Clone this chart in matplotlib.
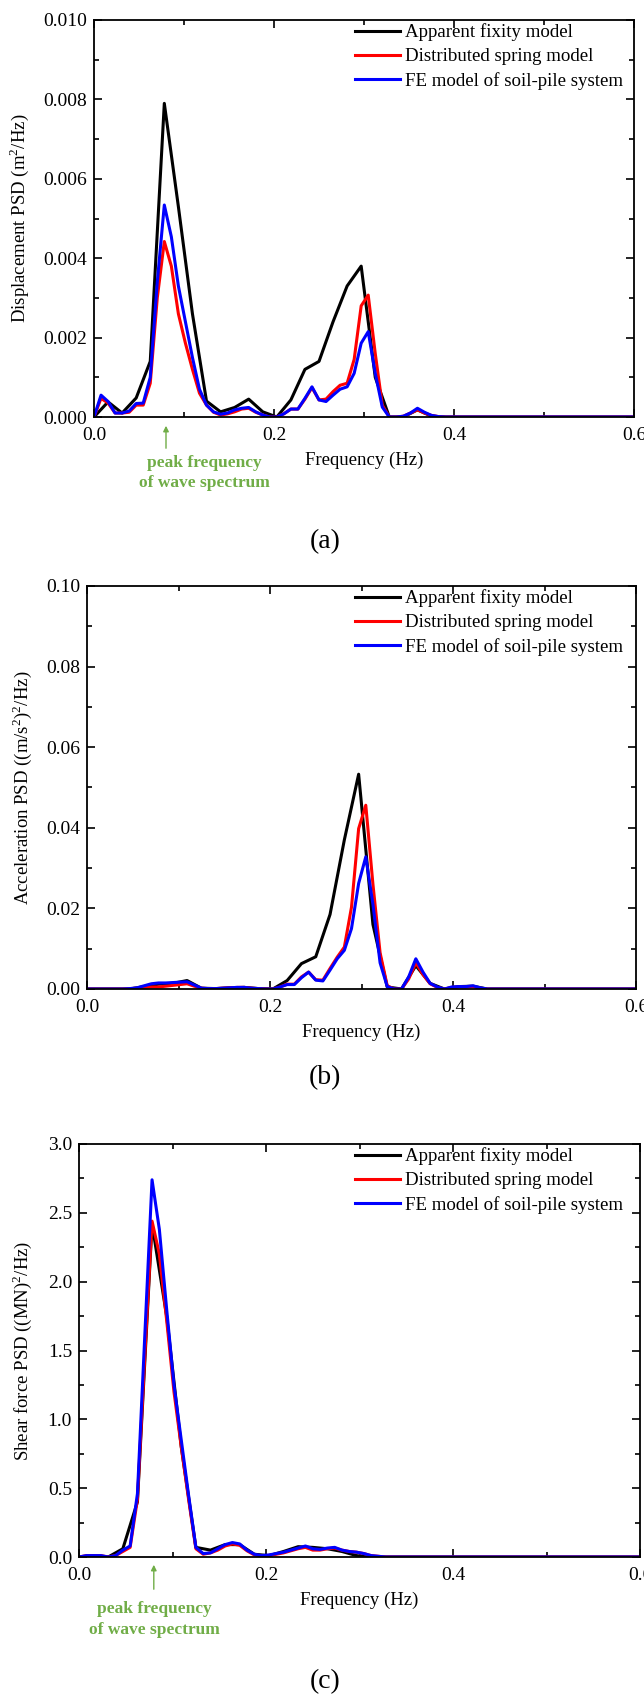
import matplotlib
matplotlib.use('Agg')
import matplotlib.pyplot as plt
import numpy as np

plt.rcParams['font.family'] = ['Liberation Serif', 'DejaVu Serif']
plt.rcParams['mathtext.fontset'] = 'custom'
plt.rcParams['mathtext.rm'] = 'Liberation Serif'

# frequency resolution of the PSD data (Hz)
df_fine = 1 / 128
df_coarse = 1 / 64

labels = ['Apparent fixity model', 'Distributed spring model', 'FE model of soil-pile system']
colors = ['black', 'red', 'blue']

# (a) displacement PSD, m^2/Hz
disp_fixity = [0.0, 0.00038, 0.0001, 0.00048, 0.0014, 0.0079, 0.0053, 0.0026, 0.0004, 0.00013,
               0.00024, 0.00045, 0.00013, 0.0, 0.00043, 0.0012, 0.0014, 0.0024, 0.0033, 0.0038,
               0.0010, 0.0, 0.0, 0.00018, 0.00002] + [0.0] * 15
disp_spring = [0.0, 0.00047, 0.00035, 0.0001, 0.0001, 0.00012, 0.0003, 0.0003, 0.00085, 0.0030,
               0.00442, 0.0038, 0.0026, 0.00186, 0.0012, 0.0006, 0.0003, 0.00012, 0.00005, 0.00008,
               0.00013, 0.0002, 0.00022, 0.00012, 0.00005, 0.0, 0.0, 0.00008, 0.0002, 0.0002,
               0.00045, 0.00074, 0.00043, 0.00045, 0.00064, 0.0008, 0.00085, 0.00145, 0.0028, 0.00307,
               0.0016, 0.0003, 0.0, 0.0, 0.00002, 0.0001, 0.00018, 0.0001, 0.00004, 0.00001] + [0.0] * 28
disp_fe = [0.0, 0.00055, 0.00039, 0.0001, 0.0001, 0.00015, 0.00034, 0.00035, 0.001, 0.0034,
           0.00534, 0.00454, 0.0033, 0.0024, 0.0015, 0.0007, 0.0003, 0.00013, 0.00007, 0.0001,
           0.00018, 0.00022, 0.00024, 0.00013, 0.00005, 0.0, 0.0, 0.00008, 0.0002, 0.0002,
           0.00047, 0.00076, 0.00043, 0.00039, 0.00055, 0.0007, 0.00076, 0.0011, 0.00186, 0.00215,
           0.0011, 0.00025, 0.0, 0.0, 0.00002, 0.0001, 0.00022, 0.00012, 0.00004, 0.00001] + [0.0] * 28

# (b) acceleration PSD, (m/s^2)^2/Hz
acc_fixity = [0.0, 0.0, 0.0, 0.0, 0.0006, 0.0012, 0.0014, 0.0021, 0.0002, 0.0001,
              0.0003, 0.0004, 0.0001, 0.0, 0.0021, 0.0063, 0.0080, 0.0185, 0.0370, 0.0533,
              0.0160, 0.0005, 0.0, 0.0058, 0.0014, 0.0, 0.0006, 0.0007, 0.0] + [0.0] * 11
acc_spring = [0.0, 0.0, 0.0, 0.0, 0.0, 0.0, 0.0001, 0.0002, 0.0004, 0.0005,
              0.0005, 0.0007, 0.0009, 0.0011, 0.0013, 0.0007, 0.0002, 0.0001, 0.0001, 0.0002,
              0.0003, 0.0004, 0.0004, 0.0002, 0.0001, 0.0, 0.0, 0.0005, 0.0012, 0.0012,
              0.0030, 0.0042, 0.0023, 0.0022, 0.0051, 0.0079, 0.0104, 0.0203, 0.0398, 0.0456,
              0.0260, 0.0090, 0.0008, 0.0, 0.0, 0.0025, 0.0065, 0.0036, 0.0013, 0.0004,
              0.0, 0.0004, 0.0005, 0.0005, 0.0006, 0.0002, 0.0] + [0.0] * 21
acc_fe = [0.0, 0.0, 0.0, 0.0, 0.0, 0.0, 0.0001, 0.0003, 0.0008, 0.0013,
          0.0015, 0.0015, 0.0016, 0.0017, 0.0018, 0.0010, 0.0002, 0.0001, 0.0001, 0.0002,
          0.0003, 0.0004, 0.0004, 0.0002, 0.0001, 0.0, 0.0, 0.0005, 0.0011, 0.0011,
          0.0028, 0.0042, 0.0022, 0.0020, 0.0047, 0.0075, 0.0096, 0.0150, 0.0262, 0.0328,
          0.0210, 0.0065, 0.0006, 0.0, 0.0, 0.0030, 0.0075, 0.0042, 0.0014, 0.0005,
          0.0, 0.0005, 0.0006, 0.0006, 0.0008, 0.0003, 0.0] + [0.0] * 21

# (c) shear force PSD, (MN)^2/Hz
shear_fixity = [0.0, 0.01, 0.0, 0.06, 0.40, 2.42, 1.75, 0.80, 0.07, 0.05,
                0.09, 0.09, 0.02, 0.01, 0.04, 0.075, 0.07, 0.06, 0.04, 0.01, 0.0] + [0.0] * 19
shear_spring = [0.0, 0.01, 0.01, 0.01, 0.0, 0.01, 0.04, 0.07, 0.42, 1.45,
                2.44, 2.20, 1.72, 1.20, 0.80, 0.42, 0.06, 0.02, 0.03, 0.05,
                0.08, 0.095, 0.085, 0.045, 0.015, 0.008, 0.012, 0.02, 0.03, 0.045,
                0.06, 0.07, 0.05, 0.05, 0.06, 0.065, 0.05, 0.04, 0.035, 0.025,
                0.01, 0.005, 0.0] + [0.0] * 35
shear_fe = [0.0, 0.01, 0.01, 0.01, 0.0, 0.01, 0.05, 0.08, 0.46, 1.60,
            2.74, 2.38, 1.80, 1.25, 0.85, 0.45, 0.07, 0.025, 0.03, 0.06,
            0.09, 0.105, 0.095, 0.05, 0.02, 0.01, 0.015, 0.025, 0.035, 0.05,
            0.065, 0.08, 0.06, 0.055, 0.065, 0.07, 0.05, 0.04, 0.035, 0.025,
            0.01, 0.005, 0.0] + [0.0] * 35

W, H = 644, 1697
fig = plt.figure(figsize=(W / 100, H / 100), dpi=100)


def px_axes(left, right, top, bottom):
    return fig.add_axes([left / W, 1 - bottom / H, (right - left) / W, (bottom - top) / H])


def fy(y):
    return 1 - y / H


panels = [
    dict(box=(94, 634, 20, 417), ymax=0.010, yticks=np.arange(0, 0.0101, 0.002), fmt='{:.3f}',
         ylabel='Displacement PSD (m$^2$/Hz)', data=(disp_fixity, disp_spring, disp_fe),
         ylab_x=31, tag='(a)', tag_y=542),
    dict(box=(87, 636, 586, 989), ymax=0.10, yticks=np.arange(0, 0.101, 0.02), fmt='{:.2f}',
         ylabel='Acceleration PSD ((m/s$^2$)$^2$/Hz)', data=(acc_fixity, acc_spring, acc_fe),
         ylab_x=34, tag='(b)', tag_y=1078),
    dict(box=(79, 640, 1144, 1557), ymax=3.0, yticks=np.arange(0, 3.01, 0.5), fmt='{:.1f}',
         ylabel='Shear force PSD ((MN)$^2$/Hz)', data=(shear_fixity, shear_spring, shear_fe),
         ylab_x=34, tag='(c)', tag_y=1682),
]

leg_fs = 13.6
leg_px = leg_fs * 100 / 72

axes = []
for p in panels:
    left, right, top, bottom = p['box']
    ax = px_axes(left, right, top, bottom)
    axes.append(ax)
    fixity, spring, fe = p['data']
    f_coarse = np.arange(len(fixity)) * df_coarse
    f_fine = np.arange(len(spring)) * df_fine
    ax.plot(f_coarse, fixity, color=colors[0], lw=2.2, label=labels[0])
    ax.plot(f_fine, spring, color=colors[1], lw=2.2, label=labels[1])
    ax.plot(f_fine, fe, color=colors[2], lw=2.2, label=labels[2])

    ax.set_xlim(0, 0.6)
    ax.set_ylim(0, p['ymax'])
    ax.set_xticks([0.0, 0.2, 0.4, 0.6])
    ax.set_xticklabels(['0.0', '0.2', '0.4', '0.6'])
    ax.set_xticks([0.1, 0.3, 0.5], minor=True)
    ax.set_yticks(p['yticks'])
    ax.set_yticklabels([p['fmt'].format(v) for v in p['yticks']])
    ystep = p['yticks'][1] - p['yticks'][0]
    ax.set_yticks(p['yticks'][:-1] + ystep / 2, minor=True)
    ax.tick_params(which='both', direction='in', top=True, right=True, labelsize=14, width=1.2)
    ax.tick_params(which='major', length=5.5)
    ax.tick_params(which='minor', length=3.8)
    ax.tick_params(axis='x', pad=7)
    ax.tick_params(axis='y', pad=5)
    for s in ax.spines.values():
        s.set_linewidth(1.3)

    ax.set_xlabel('Frequency (Hz)', fontsize=13.5, labelpad=6)
    ax.set_ylabel(p['ylabel'], fontsize=13.5)
    ax.yaxis.set_label_coords((p['ylab_x'] - left) / (right - left), 0.5)

    ax.legend(loc='upper left', bbox_to_anchor=((355 - 0.18 * leg_px - left) / (right - left), 1.0),
              frameon=False, fontsize=leg_fs, handlelength=2.38, handletextpad=0.26,
              labelspacing=0.36, borderaxespad=0.0, borderpad=0.18)

    fig.text(0.505, fy(p['tag_y']), p['tag'], fontsize=20, ha='center', va='center')

green = '#70AD47'
# annotation of the wave spectrum peak, panels (a) and (c)
for ax, tail, head, tx, ty in [(axes[0], 451, 423, 0.1228, (463, 483)),
                               (axes[2], 1592, 1562, 0.081, (1609, 1630))]:
    xf = ax.transData.transform((0.08, 0))[0] / fig.bbox.width
    ax.annotate('', xy=(xf, fy(head)), xytext=(xf, fy(tail)), xycoords='figure fraction',
                textcoords='figure fraction',
                arrowprops=dict(arrowstyle='-|>', color=green, lw=1.0, mutation_scale=8))
    xt = ax.transData.transform((tx, 0))[0] / fig.bbox.width
    fig.text(xt, fy(ty[0]), 'peak frequency', color=green, fontsize=12.5, fontweight='bold',
             ha='center', va='center')
    fig.text(xt, fy(ty[1]), 'of wave spectrum', color=green, fontsize=12.5, fontweight='bold',
             ha='center', va='center')

fig.savefig('out.png', dpi=100)
